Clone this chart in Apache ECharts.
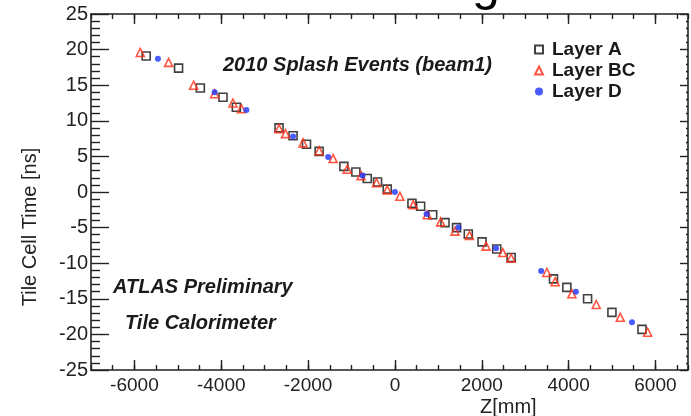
<!DOCTYPE html>
<html>
<head>
<meta charset="utf-8">
<script src="https://cdn.jsdelivr.net/npm/echarts@6/dist/echarts.min.js"></script>
<style>
html,body{margin:0;padding:0;background:#fff;}
#chart{width:691px;height:416px;}
</style>
</head>
<body>
<div id="chart"></div>
<script>
// ---- data ----
const layerAZ = [-5729, -4983, -4482, -3960, -3652, -2669, -2346, -2037, -1746, -1176, -900, -638, -400, -177, 392, 592, 869, 1153, 1420, 1690, 2007, 2345, 2676, 3652, 3960, 4437, 4998, 5690];
const layerAT = [19.1, 17.4, 14.6, 13.3, 11.9, 9.0, 7.9, 6.7, 5.7, 3.6, 2.8, 1.9, 1.4, 0.4, -1.6, -2.0, -3.2, -4.3, -5.0, -5.9, -7.0, -8.0, -9.2, -12.2, -13.4, -15.0, -16.9, -19.3];

const layerBCZ = [-5866, -5213, -4637, -4152, -3730, -3537, -2669, -2521, -2115, -1746, -1423, -1099, -780, -423, -177, 115, 423, 745, 1054, 1384, 1715, 2099, 2484, 2676, 3499, 3690, 4076, 4637, 5190, 5820];
const layerBCT = [19.6, 18.2, 15.0, 13.8, 12.5, 11.7, 8.9, 8.2, 6.9, 5.8, 4.7, 3.2, 2.3, 1.3, 0.3, -0.6, -1.8, -3.2, -4.2, -5.5, -6.1, -7.6, -8.5, -9.3, -11.3, -12.6, -14.3, -15.8, -17.6, -19.7];

const layerDZ = [-5459, -4152, -3421, -2346, -1538, -746, 0, 730, 1461, 2330, 3368, 4168, 5460];
const layerDT = [18.7, 14.0, 11.5, 7.8, 4.9, 2.3, 0.0, -3.1, -5.0, -7.9, -11.1, -14.0, -18.3];

const xMajorTicks = [-6000, -4000, -2000, 0, 2000, 4000, 6000];
const seriesNames = ['Layer A', 'Layer BC', 'Layer D'];

const zip = (a, b) => a.map((v, i) => [v, b[i]]);

const FONT = 'Liberation Sans, Arial, Helvetica, sans-serif';
const AX = '#222';
const xMin = -7000, xMax = 6750;
const plain = v => String(v);

const chart = echarts.init(document.getElementById('chart'), null, {renderer: 'canvas'});

const option = {
  backgroundColor: '#fff',
  animation: false,
  grid: [{left: 91, right: 3, top: 14, bottom: 46}],
  legend: {
    orient: 'vertical',
    left: 529,
    top: 35,
    itemWidth: 8,
    itemHeight: 8,
    itemGap: 2,
    data: seriesNames,
    textStyle: {fontFamily: FONT, fontSize: 19, fontWeight: 'bold', color: '#1a1a1a', lineHeight: 19, padding: [0, 0, 0, 4]}
  },
  xAxis: [
    { // minor ticks bottom (every 500)
      type: 'value', gridIndex: 0, position: 'bottom', min: xMin, max: xMax, interval: 500,
      axisLine: {show: true, onZero: false, lineStyle: {color: AX, width: 1.6}},
      axisTick: {show: true, inside: true, length: 5, lineStyle: {color: AX, width: 1.4}},
      axisLabel: {show: false}, splitLine: {show: false}
    },
    { // major ticks + labels bottom
      type: 'value', gridIndex: 0, position: 'bottom', min: xMin, max: xMax, interval: 500,
      axisLine: {show: false, onZero: false},
      axisTick: {show: true, inside: true, length: 10, customValues: xMajorTicks, lineStyle: {color: AX, width: 1.4}},
      axisLabel: {show: true, customValues: xMajorTicks, formatter: plain, margin: 6, fontFamily: FONT, fontSize: 19, color: AX},
      splitLine: {show: false}
    },
    { // minor ticks top
      type: 'value', gridIndex: 0, position: 'top', min: xMin, max: xMax, interval: 500,
      axisLine: {show: true, onZero: false, lineStyle: {color: AX, width: 1.6}},
      axisTick: {show: true, inside: true, length: 5, lineStyle: {color: AX, width: 1.4}},
      axisLabel: {show: false}, splitLine: {show: false}
    },
    { // major ticks top
      type: 'value', gridIndex: 0, position: 'top', min: xMin, max: xMax, interval: 500,
      axisLine: {show: false, onZero: false},
      axisTick: {show: true, inside: true, length: 10, customValues: xMajorTicks, lineStyle: {color: AX, width: 1.4}},
      axisLabel: {show: false}, splitLine: {show: false}
    }
  ],
  yAxis: [
    {
      type: 'value', gridIndex: 0, position: 'left', min: -25, max: 25, interval: 5,
      axisLine: {show: true, onZero: false, lineStyle: {color: AX, width: 1.6}},
      axisTick: {show: true, inside: true, length: 18, lineStyle: {color: AX, width: 1.4}},
      minorTick: {show: true, splitNumber: 5, length: 9, lineStyle: {color: AX, width: 1.4}},
      axisLabel: {show: true, formatter: plain, margin: 3, fontFamily: FONT, fontSize: 20, color: AX},
      splitLine: {show: false}
    },
    {
      type: 'value', gridIndex: 0, position: 'right', min: -25, max: 25, interval: 5,
      axisLine: {show: true, onZero: false, lineStyle: {color: AX, width: 1.6}},
      axisTick: {show: true, inside: true, length: 8, lineStyle: {color: AX, width: 1.4}},
      minorTick: {show: true, splitNumber: 5, length: 2, lineStyle: {color: AX, width: 1.4}},
      axisLabel: {show: false},
      splitLine: {show: false}
    }
  ],
  graphic: [
    {type: 'text', left: 223, top: 55, style: {text: '2010 Splash Events (beam1)', font: 'italic bold 20px ' + FONT, fill: '#1a1a1a'}},
    {type: 'text', left: 113, top: 277, style: {text: 'ATLAS Preliminary', font: 'italic bold 20px ' + FONT, fill: '#1a1a1a'}},
    {type: 'text', left: 125, top: 313, style: {text: 'Tile Calorimeter', font: 'italic bold 20px ' + FONT, fill: '#1a1a1a'}},
    {type: 'text', left: 480, top: 397, style: {text: 'Z[mm]', font: '20px ' + FONT, fill: AX}},
    {type: 'text', x: 30, y: 227, rotation: Math.PI / 2, style: {text: 'Tile Cell Time [ns]', font: '20px ' + FONT, fill: AX, align: 'center', verticalAlign: 'middle'}},
    {type: 'text', x: 486, y: -14, style: {text: 'g', font: '50px ' + FONT, fill: '#000', align: 'center', verticalAlign: 'middle'}}
  ],
  series: [
    {
      name: seriesNames[0], type: 'scatter', xAxisIndex: 0, yAxisIndex: 0,
      data: zip(layerAZ, layerAT), symbol: 'rect', symbolSize: 8,
      itemStyle: {color: 'rgba(255,255,255,0)', borderColor: '#111', borderWidth: 1.6}
    },
    {
      name: seriesNames[1], type: 'scatter', xAxisIndex: 0, yAxisIndex: 0,
      data: zip(layerBCZ, layerBCT), symbol: 'triangle', symbolSize: 8,
      itemStyle: {color: 'rgba(255,255,255,0)', borderColor: '#ff2a10', borderWidth: 1.6}
    },
    {
      name: seriesNames[2], type: 'scatter', xAxisIndex: 0, yAxisIndex: 0,
      data: zip(layerDZ, layerDT), symbol: 'circle', symbolSize: 6,
      itemStyle: {color: '#1a33ff'}
    }
  ]
};
chart.setOption(option);
</script>
</body>
</html>
